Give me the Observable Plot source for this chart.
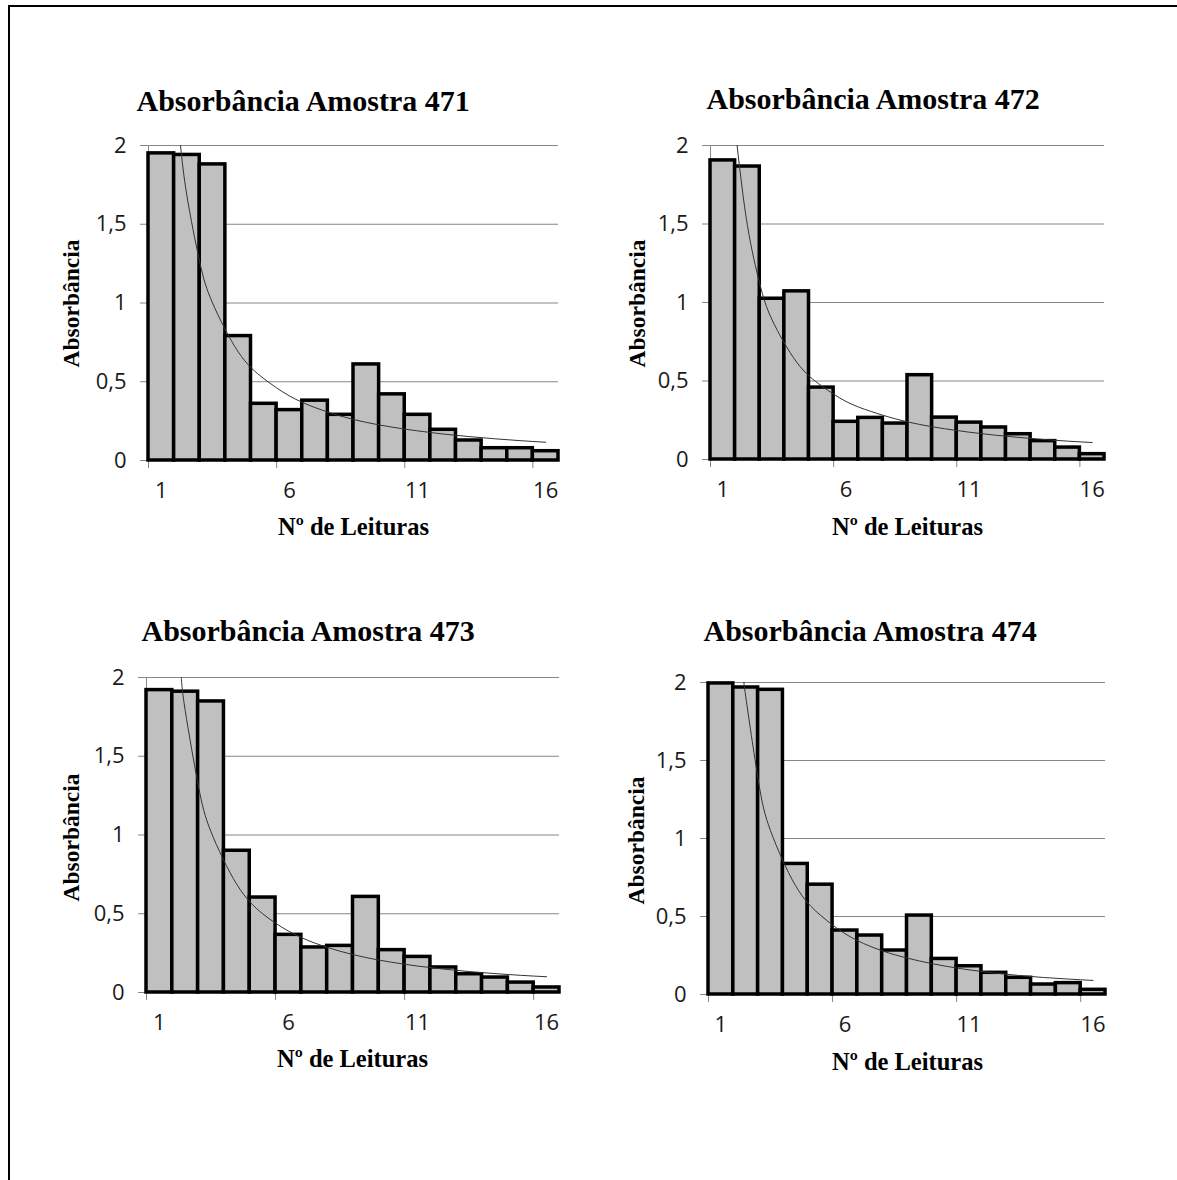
<!DOCTYPE html>
<html>
<head>
<meta charset="utf-8">
<script src="https://cdn.jsdelivr.net/npm/d3@7"></script>
<script src="https://cdn.jsdelivr.net/npm/@observablehq/plot@0.6"></script>
<style>
  html, body { margin: 0; padding: 0; background: #fff; }
  #page { position: relative; width: 1177px; height: 1180px; overflow: hidden; background: #fff; }
  #border { position: absolute; left: 8px; top: 5px; width: 1169px; height: 1175px; box-sizing: border-box; border-top: 2px solid #000; border-left: 2px solid #000; }
  .panel { position: absolute; }
  .panel svg { overflow: visible; }
</style>
</head>
<body>
<div id="page"><div id="border"></div></div>
<script>
// ---- Data ----
const readings = [1, 2, 3, 4, 5, 6, 7, 8, 9, 10, 11, 12, 13, 14, 15, 16];
const xTickLabels = [1, 6, 11, 16];
const yTickValues = [0, 0.5, 1, 1.5, 2];

const titles = ["Absorbância Amostra 471", "Absorbância Amostra 472", "Absorbância Amostra 473", "Absorbância Amostra 474"];
const yLabel = "Absorbância";
const xLabel = "Nº de Leituras";

const abs471 = [1.95, 1.94, 1.88, 0.79, 0.36, 0.32, 0.38, 0.29, 0.61, 0.42, 0.29, 0.195, 0.127, 0.078, 0.078, 0.059];
const abs472 = [1.905, 1.866, 1.024, 1.071, 0.458, 0.24, 0.265, 0.229, 0.537, 0.267, 0.235, 0.204, 0.161, 0.117, 0.076, 0.034];
const abs473 = [1.92, 1.91, 1.848, 0.90, 0.603, 0.366, 0.286, 0.296, 0.607, 0.269, 0.226, 0.159, 0.116, 0.095, 0.063, 0.032];
const abs474 = [1.994, 1.968, 1.953, 0.837, 0.704, 0.41, 0.378, 0.282, 0.506, 0.228, 0.181, 0.139, 0.107, 0.064, 0.073, 0.03];

// trend lines
const trendX471 = [1.75, 2, 2.5, 3, 4, 5, 6, 7, 8, 9, 10, 11, 12, 13, 14, 15, 16];
const trendY471 = [2.0, 1.68, 1.26, 1.0, 0.69, 0.52, 0.41, 0.336, 0.282, 0.242, 0.212, 0.188, 0.168, 0.152, 0.138, 0.126, 0.116];
const trendX472 = [1.58, 2, 2.5, 3, 4, 5, 6, 7, 8, 9, 10, 11, 12, 13, 14, 15, 16];
const trendY472 = [2.0, 1.49, 1.12, 0.89, 0.62, 0.47, 0.37, 0.307, 0.259, 0.223, 0.196, 0.174, 0.156, 0.141, 0.128, 0.117, 0.108];
const trendX473 = [1.85, 2, 2.5, 3, 4, 5, 6, 7, 8, 9, 10, 11, 12, 13, 14, 15, 16];
const trendY473 = [2.0, 1.79, 1.32, 1.02, 0.686, 0.50, 0.39, 0.315, 0.262, 0.222, 0.192, 0.168, 0.149, 0.133, 0.120, 0.109, 0.10];
const trendX474 = [1.94, 2, 2.5, 3, 4, 5, 6, 7, 8, 9, 10, 11, 12, 13, 14, 15, 16];
const trendY474 = [2.0, 1.91, 1.38, 1.05, 0.70, 0.51, 0.39, 0.31, 0.255, 0.215, 0.183, 0.158, 0.138, 0.122, 0.109, 0.099, 0.09];

// ---- Layout ----
const panels = [
  {title: titles[0], values: abs471, tx: trendX471, ty: trendY471,
   box: {left: 30, top: 70, width: 545, height: 480}, frame: {x1: 148, x2: 558, y1: 145, y2: 460},
   titleAt: [136, 110], yLabAt: [71, 303], xLabAt: [353, 534]},
  {title: titles[1], values: abs472, tx: trendX472, ty: trendY472,
   box: {left: 600, top: 70, width: 560, height: 480}, frame: {x1: 710, x2: 1104, y1: 145, y2: 459},
   titleAt: [706, 108], yLabAt: [637, 303], xLabAt: [907, 534]},
  {title: titles[2], values: abs473, tx: trendX473, ty: trendY473,
   box: {left: 30, top: 600, width: 545, height: 490}, frame: {x1: 146, x2: 559, y1: 677, y2: 992},
   titleAt: [141, 640], yLabAt: [71, 837], xLabAt: [352, 1066]},
  {title: titles[3], values: abs474, tx: trendX474, ty: trendY474,
   box: {left: 600, top: 600, width: 560, height: 490}, frame: {x1: 708, x2: 1105, y1: 682, y2: 994},
   titleAt: [703, 640], yLabAt: [636, 840], xLabAt: [907, 1069]}
];

const gridColor = "#868686";
const tickFont = "'Open Sans', sans-serif";
const serif = "'Liberation Serif', 'Times New Roman', serif";

const page = document.getElementById("page");

for (const p of panels) {
  const {box, frame} = p;
  const rows = readings.map((n, i) => ({n, v: p.values[i]}));
  const trend = p.tx.map((x, i) => ({x, y: p.ty[i]}));
  const midX = (frame.x1 + frame.x2) / 2;
  const midY = (frame.y1 + frame.y2) / 2;

  const chart = Plot.plot({
    width: box.width,
    height: box.height,
    marginLeft: frame.x1 - box.left,
    marginRight: box.left + box.width - frame.x2,
    marginTop: frame.y1 - box.top,
    marginBottom: box.top + box.height - frame.y2,
    style: {fontFamily: tickFont, background: "transparent", color: "#222"},
    x: {domain: [0.5, 16.5]},
    y: {domain: [0, 2]},
    marks: [
      Plot.gridY({ticks: yTickValues.slice(1), stroke: gridColor, strokeOpacity: 1, strokeWidth: 1}),
      Plot.axisY({ticks: yTickValues, tickSize: 8, tickPadding: 14, stroke: gridColor, fill: "#1a1a1a",
        fontSize: 22, label: null, tickFormat: d => String(d).replace(".", ",")}),
      Plot.axisX({ticks: [0.5, 5.5, 10.5, 15.5], tickSize: 8, stroke: gridColor, tickFormat: () => "", label: null}),
      Plot.axisX({ticks: xTickLabels, tickSize: 0, tickPadding: 22, fontSize: 22, fill: "#1a1a1a", label: null}),
      Plot.ruleX([0.5], {stroke: gridColor}),
      Plot.ruleY([0], {stroke: gridColor}),
      Plot.rect(rows, {x1: d => d.n - 0.5, x2: d => d.n + 0.5, y1: 0, y2: "v",
        fill: "#c0c0c0", stroke: "#000", strokeWidth: 3.5}),
      Plot.line(trend, {x: "x", y: "y", stroke: "#333", strokeWidth: 1, curve: "natural", clip: true}),
      Plot.text([p.title], {text: d => d, frameAnchor: "top-left", dx: p.titleAt[0] - frame.x1, dy: p.titleAt[1] - frame.y1,
        textAnchor: "start", lineAnchor: "bottom", fontFamily: serif, fontWeight: "bold", fontSize: 30, fill: "#000"}),
      Plot.text([yLabel], {text: d => d, frameAnchor: "left", dx: p.yLabAt[0] - frame.x1, dy: p.yLabAt[1] - midY,
        rotate: -90, textAnchor: "middle", lineAnchor: "middle", fontFamily: serif, fontWeight: "bold", fontSize: 23.5, fill: "#000"}),
      Plot.text([xLabel], {text: d => d, frameAnchor: "bottom", dx: p.xLabAt[0] - midX, dy: p.xLabAt[1] - frame.y2,
        textAnchor: "middle", lineAnchor: "bottom", fontFamily: serif, fontWeight: "bold", fontSize: 24.5, fill: "#000"})
    ]
  });
  const wrap = document.createElement("div");
  wrap.className = "panel";
  wrap.style.left = box.left + "px";
  wrap.style.top = box.top + "px";
  wrap.appendChild(chart);
  page.appendChild(wrap);
}
</script>
</body>
</html>
